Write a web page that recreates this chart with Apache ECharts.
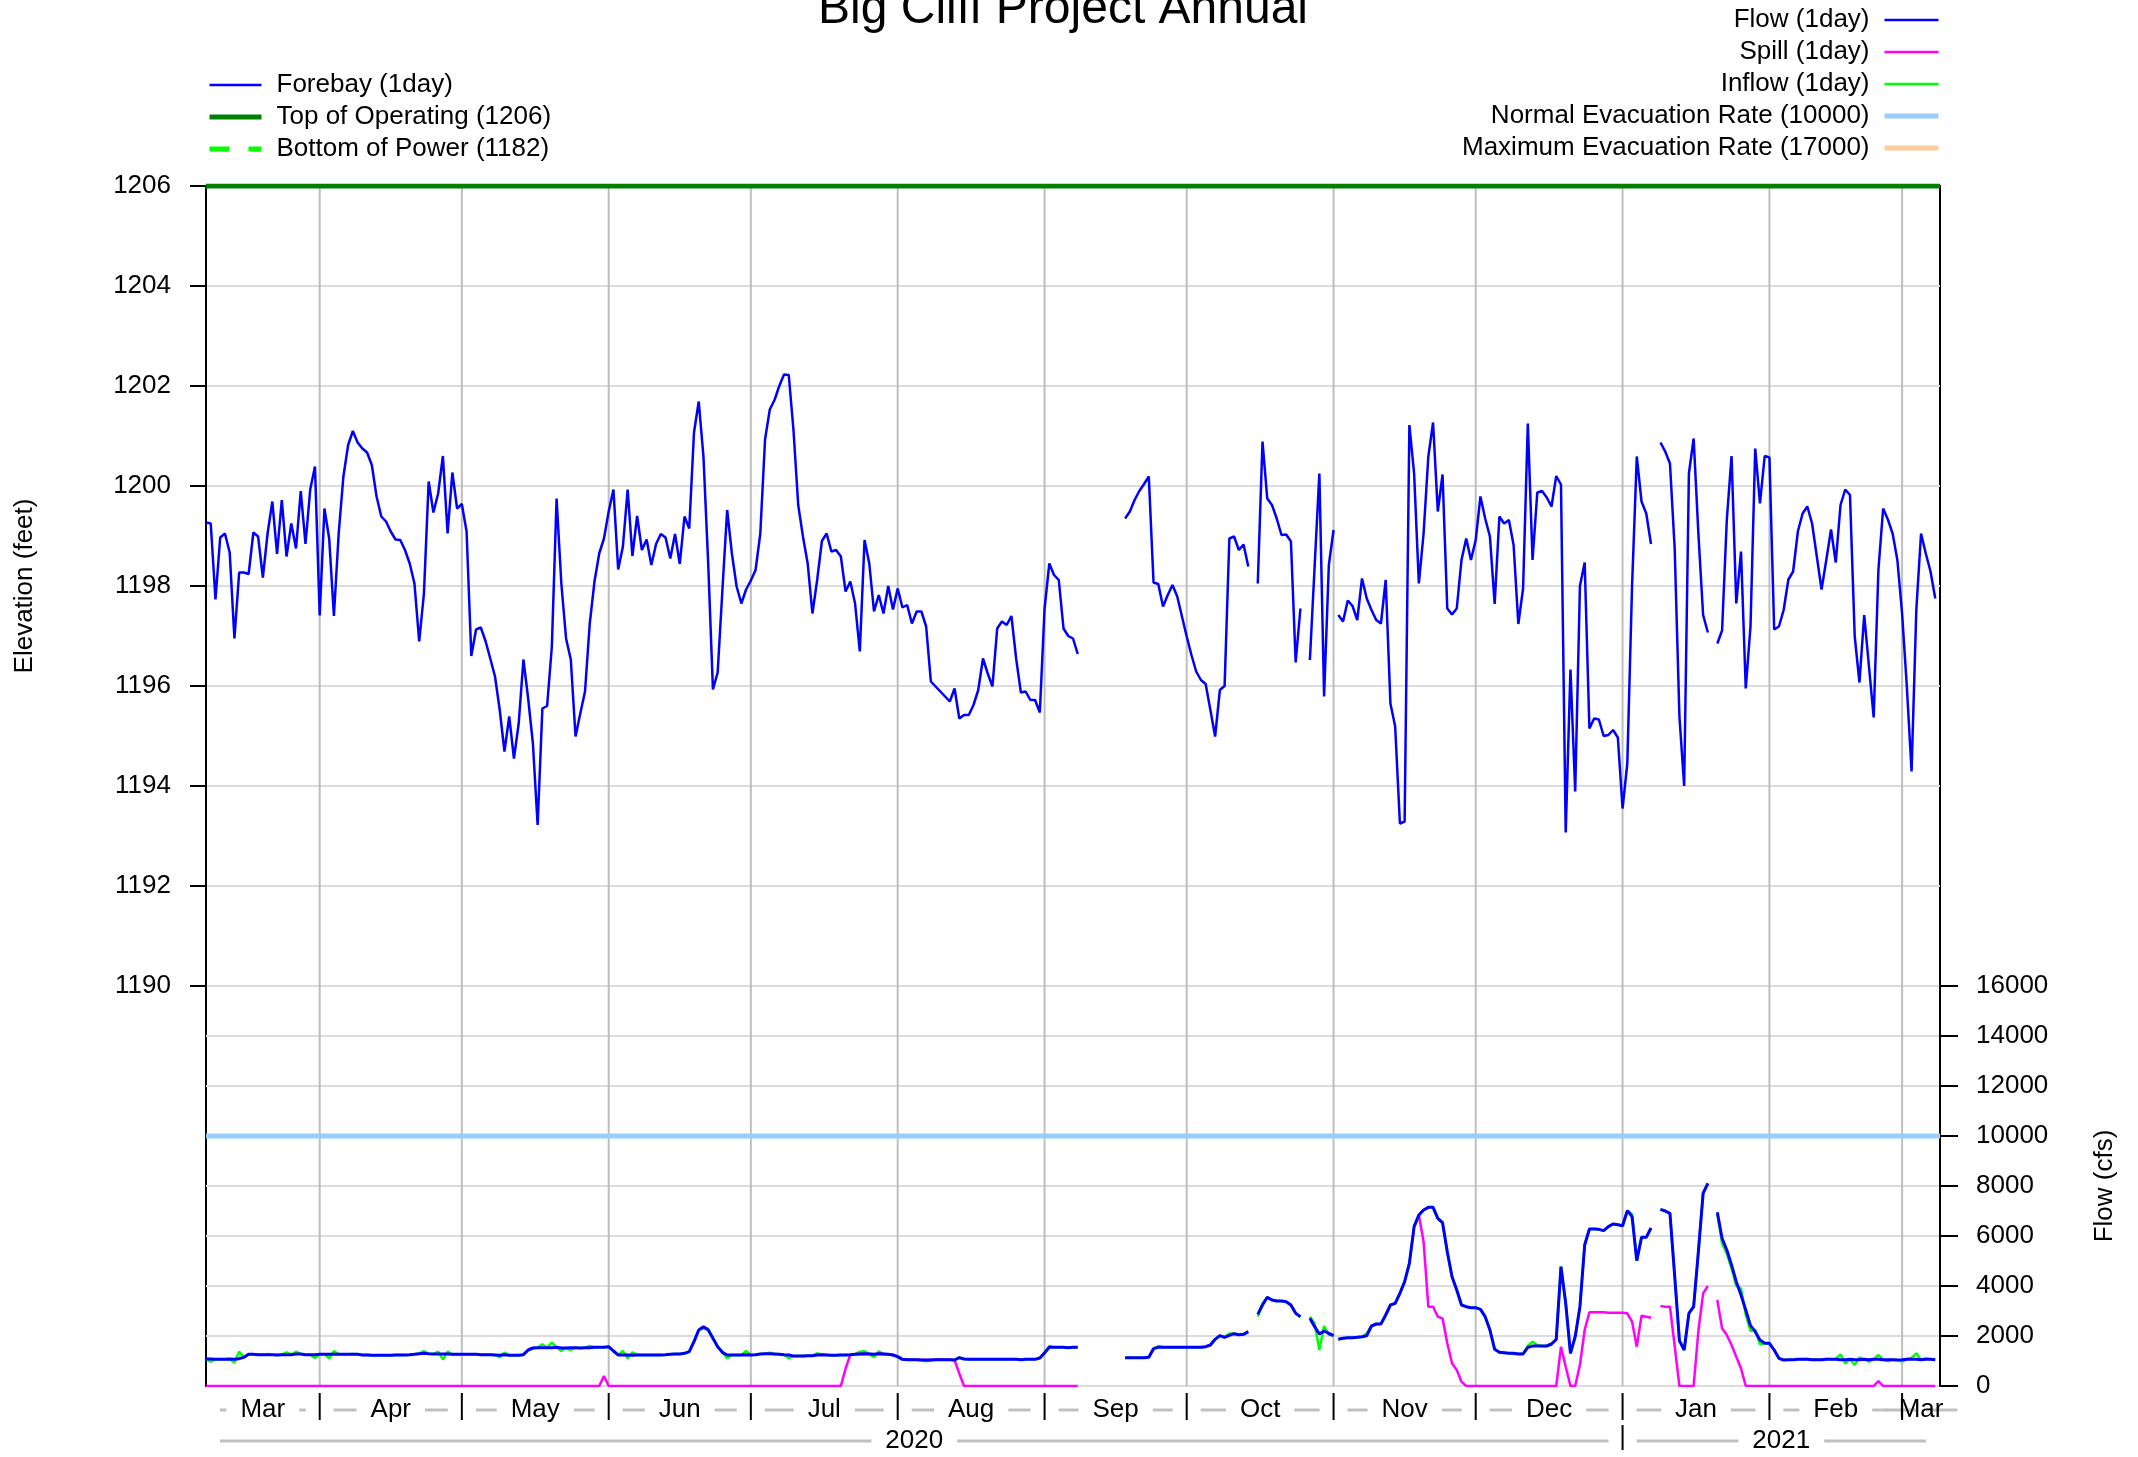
<!DOCTYPE html>
<html>
<head>
<meta charset="utf-8">
<title>Big Cliff Project Annual</title>
<script src="https://cdn.jsdelivr.net/npm/echarts@6/dist/echarts.min.js"></script>
<style>
  html, body { margin: 0; padding: 0; background: #fff; }
  #chart { width: 2138px; height: 1457px; }
</style>
</head>
<body>
<div id="chart"></div>
<script>
// daily values, first entry is 2020-03-08, null = no data that day
const firstDay = '2020-03-08';

const forebay = [
  1199.27, 1199.25, 1197.73, 1198.97, 1199.05, 1198.67, 1196.95, 1198.27, 1198.27, 1198.24,
  1199.07, 1198.99, 1198.17, 1199.05, 1199.69, 1198.64, 1199.72, 1198.59, 1199.25, 1198.75,
  1199.90, 1198.84, 1199.93, 1200.39, 1197.41, 1199.55, 1198.95, 1197.40, 1199.04, 1200.19,
  1200.82, 1201.10, 1200.87, 1200.75, 1200.67, 1200.42, 1199.79, 1199.39, 1199.29, 1199.09,
  1198.93, 1198.92, 1198.72, 1198.45, 1198.05, 1196.89, 1197.85, 1200.09, 1199.47, 1199.85,
  1200.60, 1199.05, 1200.27, 1199.55, 1199.64, 1199.09, 1196.60, 1197.13, 1197.17, 1196.90,
  1196.55, 1196.19, 1195.52, 1194.69, 1195.39, 1194.55, 1195.25, 1196.53, 1195.75, 1194.85,
  1193.22, 1195.55, 1195.60, 1196.79, 1199.75, 1198.05, 1196.95, 1196.53, 1194.99, 1195.45,
  1195.89, 1197.25, 1198.09, 1198.65, 1198.95, 1199.49, 1199.93, 1198.33, 1198.79, 1199.93,
  1198.60, 1199.40, 1198.72, 1198.93, 1198.42, 1198.84, 1199.04, 1198.97, 1198.55, 1199.04,
  1198.44, 1199.39, 1199.15, 1201.07, 1201.69, 1200.59, 1198.45, 1195.93, 1196.27, 1197.92,
  1199.52, 1198.65, 1197.99, 1197.65, 1197.93, 1198.11, 1198.32, 1199.05, 1200.93, 1201.53,
  1201.72, 1202.00, 1202.23, 1202.22, 1201.12, 1199.62, 1198.99, 1198.45, 1197.45, 1198.12,
  1198.90, 1199.05, 1198.69, 1198.72, 1198.59, 1197.89, 1198.09, 1197.65, 1196.69, 1198.92,
  1198.45, 1197.49, 1197.82, 1197.45, 1198.00, 1197.53, 1197.95, 1197.57, 1197.62, 1197.25,
  1197.49, 1197.49, 1197.19, 1196.09, 1195.99, 1195.89, 1195.79, 1195.69, 1195.95, 1195.35,
  1195.42, 1195.42, 1195.62, 1195.92, 1196.55, 1196.25, 1195.99, 1197.15, 1197.29, 1197.22,
  1197.40, 1196.55, 1195.87, 1195.89, 1195.72, 1195.72, 1195.47, 1197.55, 1198.45, 1198.22,
  1198.12, 1197.15, 1197.00, 1196.95, 1196.64, null, null, null, null, null,
  null, null, null, null, 1199.35, 1199.49, 1199.72, 1199.90, 1200.04, 1200.19,
  1198.07, 1198.04, 1197.59, 1197.82, 1198.02, 1197.79, 1197.39, 1196.99, 1196.62, 1196.29,
  1196.12, 1196.04, 1195.52, 1194.99, 1195.92, 1196.00, 1198.95, 1198.99, 1198.72, 1198.83,
  1198.39, null, 1198.05, 1200.89, 1199.75, 1199.62, 1199.35, 1199.02, 1199.03, 1198.89,
  1196.47, 1197.55, null, 1196.52, 1198.39, 1200.25, 1195.79, 1198.42, 1199.12, 1197.42,
  1197.29, 1197.71, 1197.60, 1197.32, 1198.15, 1197.75, 1197.52, 1197.32, 1197.25, 1198.12,
  1195.65, 1195.19, 1193.25, 1193.29, 1201.22, 1200.25, 1198.05, 1199.05, 1200.59, 1201.27,
  1199.49, 1200.23, 1197.55, 1197.43, 1197.55, 1198.52, 1198.95, 1198.52, 1198.92, 1199.79,
  1199.35, 1198.99, 1197.64, 1199.39, 1199.25, 1199.32, 1198.82, 1197.24, 1197.95, 1201.25,
  1198.52, 1199.87, 1199.90, 1199.77, 1199.59, 1200.20, 1200.03, 1193.07, 1196.33, 1193.89,
  1198.00, 1198.47, 1195.15, 1195.35, 1195.33, 1195.00, 1195.02, 1195.12, 1194.97, 1193.55,
  1194.45, 1197.99, 1200.59, 1199.69, 1199.45, 1198.84, null, 1200.87, 1200.69, 1200.45,
  1198.75, 1195.39, 1194.00, 1200.25, 1200.95, 1199.05, 1197.42, 1197.07, null, 1196.85,
  1197.11, 1199.32, 1200.60, 1197.65, 1198.69, 1195.95, 1197.19, 1200.75, 1199.65, 1200.60,
  1200.57, 1197.13, 1197.19, 1197.52, 1198.13, 1198.29, 1199.09, 1199.45, 1199.59, 1199.25,
  1198.59, 1197.93, 1198.52, 1199.13, 1198.47, 1199.62, 1199.93, 1199.82, 1196.99, 1196.07,
  1197.42, 1196.40, 1195.37, 1198.32, 1199.55, 1199.33, 1199.05, 1198.52, 1197.45, 1195.99,
  1194.29, 1197.52, 1199.05, 1198.65, 1198.29, 1197.75
];

const flow = [
  1080, 1080, 1067, 1067, 1067, 1080, 1067, 1093, 1147, 1267,
  1267, 1253, 1253, 1253, 1253, 1240, 1253, 1253, 1253, 1280,
  1280, 1253, 1253, 1253, 1267, 1267, 1267, 1267, 1267, 1267,
  1267, 1267, 1267, 1240, 1240, 1227, 1227, 1227, 1227, 1227,
  1240, 1240, 1240, 1253, 1267, 1293, 1307, 1293, 1280, 1280,
  1280, 1280, 1267, 1267, 1267, 1267, 1267, 1267, 1253, 1253,
  1253, 1240, 1227, 1253, 1227, 1227, 1227, 1253, 1440, 1520,
  1533, 1533, 1533, 1533, 1547, 1520, 1520, 1533, 1533, 1520,
  1533, 1533, 1547, 1547, 1547, 1573, 1400, 1240, 1240, 1240,
  1227, 1240, 1240, 1240, 1240, 1240, 1240, 1253, 1267, 1280,
  1280, 1307, 1373, 1773, 2240, 2373, 2240, 1907, 1573, 1347,
  1240, 1240, 1240, 1240, 1253, 1240, 1253, 1280, 1293, 1293,
  1280, 1267, 1253, 1240, 1200, 1200, 1200, 1213, 1213, 1240,
  1253, 1240, 1227, 1227, 1240, 1240, 1253, 1267, 1280, 1293,
  1280, 1267, 1293, 1280, 1267, 1240, 1173, 1067, 1053, 1053,
  1053, 1040, 1040, 1040, 1053, 1053, 1053, 1053, 1040, 1133,
  1080, 1067, 1067, 1067, 1067, 1067, 1067, 1067, 1067, 1067,
  1067, 1067, 1053, 1067, 1067, 1067, 1120, 1333, 1547, 1547,
  1547, 1547, 1533, 1547, 1547, null, null, null, null, null,
  null, null, null, null, 1133, 1133, 1133, 1133, 1133, 1147,
  1493, 1547, 1547, 1547, 1547, 1547, 1547, 1547, 1547, 1547,
  1547, 1573, 1640, 1867, 2013, 1947, 2027, 2093, 2053, 2067,
  2173, null, 2867, 3240, 3547, 3440, 3400, 3400, 3373, 3240,
  2907, 2773, null, 2707, 2373, 2080, 2200, 2107, 2013, 1867,
  1907, 1933, 1933, 1947, 1973, 2013, 2400, 2480, 2480, 2840,
  3240, 3307, 3707, 4173, 4907, 6373, 6840, 7040, 7147, 7147,
  6707, 6533, 5373, 4373, 3840, 3240, 3173, 3133, 3133, 3067,
  2773, 2240, 1467, 1347, 1333, 1307, 1307, 1280, 1280, 1547,
  1600, 1600, 1600, 1600, 1680, 1867, 4773, 3307, 1307, 1973,
  3173, 5640, 6280, 6280, 6267, 6213, 6373, 6480, 6453, 6413,
  7013, 6773, 5013, 5947, 5947, 6320, null, 7067, 7000, 6907,
  4400, 1813, 1440, 2907, 3173, 5373, 7707, 8107, null, 6947,
  5907, 5440, 4840, 4173, 3640, 3040, 2413, 2173, 1840, 1707,
  1707, 1440, 1107, 1040, 1053, 1053, 1067, 1067, 1067, 1053,
  1053, 1053, 1067, 1067, 1067, 1053, 1053, 1067, 1053, 1053,
  1067, 1053, 1067, 1067, 1053, 1053, 1053, 1040, 1053, 1067,
  1067, 1067, 1053, 1067, 1067, 1053
];

const spill = [
  0, 0, 0, 0, 0, 0, 0, 0, 0, 0,
  0, 0, 0, 0, 0, 0, 0, 0, 0, 0,
  0, 0, 0, 0, 0, 0, 0, 0, 0, 0,
  0, 0, 0, 0, 0, 0, 0, 0, 0, 0,
  0, 0, 0, 0, 0, 0, 0, 0, 0, 0,
  0, 0, 0, 0, 0, 0, 0, 0, 0, 0,
  0, 0, 0, 0, 0, 0, 0, 0, 0, 0,
  0, 0, 0, 0, 0, 0, 0, 0, 0, 0,
  0, 0, 0, 0, 400, 0, 0, 0, 0, 0,
  0, 0, 0, 0, 0, 0, 0, 0, 0, 0,
  0, 0, 0, 0, 0, 0, 0, 0, 0, 0,
  0, 0, 0, 0, 0, 0, 0, 0, 0, 0,
  0, 0, 0, 0, 0, 0, 0, 0, 0, 0,
  0, 0, 0, 0, 0, 700, 1253, 1267, 1280, 1293,
  1280, 1267, 1293, 1280, 1267, 1240, 1173, 1067, 1053, 1053,
  1053, 1040, 1040, 1040, 1053, 1053, 1053, 1053, 1040, 500,
  0, 0, 0, 0, 0, 0, 0, 0, 0, 0,
  0, 0, 0, 0, 0, 0, 0, 0, 0, 0,
  0, 0, 0, 0, 0, null, null, null, null, null,
  null, null, null, null, null, null, null, null, null, null,
  null, null, null, null, null, null, null, null, null, null,
  null, null, null, null, null, null, null, null, null, null,
  null, null, null, null, null, null, null, null, null, null,
  null, null, null, null, null, null, null, null, null, null,
  null, null, null, null, null, null, null, null, null, null,
  null, null, null, null, null, null, 6840, 5773, 3173, 3173,
  2773, 2707, 1707, 907, 640, 173, 0, 0, 0, 0,
  0, 0, 0, 0, 0, 0, 0, 0, 0, 0,
  0, 0, 0, 0, 0, 0, 1573, 773, 0, 0,
  850, 2240, 2950, 2947, 2947, 2947, 2933, 2933, 2933, 2933,
  2907, 2573, 1573, 2813, 2773, 2733, null, 3200, 3173, 3173,
  1600, 0, 0, 0, 0, 2200, 3707, 4000, null, 3440,
  2307, 2040, 1640, 1173, 707, 0, 0, 0, 0, 0,
  0, 0, 0, 0, 0, 0, 0, 0, 0, 0,
  0, 0, 0, 0, 0, 0, 0, 0, 0, 0,
  0, 0, 0, 200, 0, 0, 0, 0, 0, 0,
  0, 0, 0, 0, 0, 0
];

const inflow = [
  1080, 973, 1067, 1067, 1067, 1080, 933, 1373, 1147, 1267,
  1267, 1253, 1253, 1280, 1253, 1240, 1253, 1350, 1253, 1370,
  1280, 1253, 1253, 1120, 1267, 1267, 1110, 1400, 1267, 1267,
  1267, 1280, 1267, 1240, 1240, 1227, 1227, 1227, 1227, 1227,
  1240, 1240, 1240, 1253, 1267, 1293, 1400, 1293, 1280, 1373,
  1067, 1373, 1267, 1267, 1267, 1267, 1267, 1267, 1253, 1253,
  1253, 1240, 1147, 1333, 1227, 1227, 1227, 1253, 1440, 1520,
  1533, 1667, 1533, 1733, 1547, 1400, 1520, 1440, 1533, 1520,
  1533, 1600, 1547, 1547, 1547, 1573, 1400, 1240, 1400, 1107,
  1350, 1240, 1240, 1240, 1240, 1240, 1240, 1253, 1267, 1280,
  1280, 1307, 1373, 1773, 2240, 2300, 2300, 1907, 1573, 1347,
  1107, 1240, 1240, 1240, 1400, 1240, 1253, 1280, 1293, 1330,
  1280, 1267, 1253, 1107, 1200, 1200, 1200, 1213, 1213, 1307,
  1253, 1240, 1227, 1227, 1240, 1240, 1253, 1267, 1373, 1400,
  1280, 1147, 1387, 1280, 1267, 1240, 1173, 1067, 1053, 1053,
  1053, 1040, 987, 1040, 1053, 1053, 1053, 1053, 1040, 1133,
  1080, 1067, 1067, 1067, 1067, 1067, 1067, 1067, 1067, 1067,
  1067, 1067, 1053, 1067, 1067, 1067, 1120, 1300, 1600, 1547,
  1547, 1547, 1533, 1547, 1547, null, null, null, null, null,
  null, null, null, null, 1133, 1133, 1133, 1133, 1133, 1147,
  1493, 1600, 1547, 1547, 1547, 1547, 1547, 1547, 1547, 1547,
  1547, 1573, 1640, 1867, 2013, 1947, 2100, 2093, 2053, 2067,
  2173, null, 2773, 3300, 3547, 3440, 3400, 3400, 3373, 3240,
  2907, 2773, null, 2773, 2500, 1440, 2400, 2050, 2013, 1867,
  1907, 1933, 1933, 1947, 1973, 2100, 2400, 2480, 2480, 2840,
  3240, 3307, 3707, 4173, 4907, 6373, 6840, 7040, 7147, 7147,
  6707, 6533, 5373, 4373, 3840, 3240, 3173, 3133, 3133, 3067,
  2773, 2240, 1467, 1347, 1333, 1307, 1280, 1280, 1307, 1600,
  1773, 1640, 1600, 1600, 1680, 1867, 4773, 3307, 1307, 1973,
  3173, 5640, 6280, 6280, 6267, 6213, 6373, 6480, 6453, 6413,
  7013, 6880, 5013, 5947, 5947, 6320, null, 7067, 7000, 6907,
  4400, 1813, 1440, 2907, 3173, 5373, 7707, 8107, null, 6900,
  5700, 5300, 4700, 4000, 3900, 2850, 2200, 2250, 1667, 1707,
  1707, 1440, 1107, 1040, 1053, 1053, 1067, 1067, 1080, 1053,
  1053, 1053, 1080, 1067, 1080, 1267, 907, 1067, 840, 1147,
  1067, 973, 1067, 1240, 1053, 1000, 1053, 1040, 973, 1067,
  1120, 1307, 1053, 1100, 1067, 1053
];

// the record restarts after this day index (DST change on Nov 1), lines break there
const breakAfterDay = [238];

const topOfOperating = 1206;
const bottomOfPower = 1182;
const normalEvacuation = 10000;
const maximumEvacuation = 17000;

const elevationRange = [1190, 1206, 2];
const flowRange = [0, 16000, 2000];

const xRange = ['2020-03-08', '2021-03-09'];
const monthStarts = ['2020-04-01', '2020-05-01', '2020-06-01', '2020-07-01', '2020-08-01', '2020-09-01',
  '2020-10-01', '2020-11-01', '2020-12-01', '2021-01-01', '2021-02-01', '2021-03-01'];
const monthLabels = ['Mar', 'Apr', 'May', 'Jun', 'Jul', 'Aug', 'Sep', 'Oct', 'Nov', 'Dec', 'Jan', 'Feb', 'Mar'];
const yearStarts = ['2021-01-01'];
const yearLabels = ['2020', '2021'];

const FONT = '"Liberation Sans", Arial, Helvetica, sans-serif';
const DAY = 24 * 3600 * 1000;

function toTime(s) {
  const p = s.split('-').map(Number);
  return new Date(p[0], p[1] - 1, p[2]).getTime();
}

const xMin = toTime(xRange[0]);
const xMax = toTime(xRange[1]);
const t0 = toTime(firstDay);

function daily(values) {
  const out = [];
  values.forEach((v, i) => {
    const t = new Date(t0).setDate(new Date(t0).getDate() + i);
    out.push([t, v == null ? '-' : v]);
    if (breakAfterDay.includes(i)) out.push([t + DAY / 2, '-']);
  });
  return out;
}

function level(v) {
  return [[xMin, v], [xMax, v]];
}

// text width for the hand-drawn date axis
const measureCtx = document.createElement('canvas').getContext('2d');
measureCtx.font = '26px ' + FONT;

function segments(starts) {
  const bounds = [xMin].concat(starts.map(toTime), [xMax]);
  const out = [];
  for (let i = 0; i < bounds.length - 1; i++) out.push([bounds[i], bounds[i + 1], 0]);
  return out;
}

// one labelled span of the date axis: "— Apr —|"
function dateSpan(labels, textOffset, sepTop, sepBottom) {
  return function (params, api) {
    const start = api.coord([api.value(0), 0]);
    const x0 = start[0];
    const x1 = api.coord([api.value(1), 0])[0];
    const base = start[1];
    const label = labels[params.dataIndex];
    const w = measureCtx.measureText(label).width;
    const cx = (x0 + x1) / 2;
    const y = base + textOffset;
    const gap = 14;
    const dash = (a, b) => ({
      type: 'line',
      shape: { x1: a, y1: y, x2: b, y2: y },
      style: { stroke: '#c0c0c0', lineWidth: 3 }
    });
    const children = [
      dash(x0 + gap, cx - w / 2 - gap),
      dash(cx + w / 2 + gap, x1 - gap),
      {
        type: 'text',
        style: {
          text: label, x: cx, y: y, align: 'center', verticalAlign: 'middle',
          fontSize: 26, fontFamily: FONT, fill: '#000'
        }
      }
    ];
    if (params.dataIndex > 0) {
      children.push({
        type: 'line',
        shape: { x1: x0, y1: base + sepTop, x2: x0, y2: base + sepBottom },
        style: { stroke: '#000', lineWidth: 2 }
      });
    }
    return { type: 'group', children: children };
  };
}

function monthGrid(axisIndex) {
  return {
    type: 'custom',
    xAxisIndex: axisIndex,
    yAxisIndex: axisIndex,
    z: 1,
    silent: true,
    data: monthStarts.map(s => [toTime(s), axisIndex === 0 ? elevationRange[0] : flowRange[0]]),
    renderItem: function (params, api) {
      const x = api.coord([api.value(0), api.value(1)])[0];
      const cs = params.coordSys;
      return {
        type: 'line',
        shape: { x1: x, y1: cs.y, x2: x, y2: cs.y + cs.height },
        style: { stroke: '#bebebe', lineWidth: 2 }
      };
    }
  };
}

const chart = echarts.init(document.getElementById('chart'));

const legendText = { fontSize: 26, color: '#000', fontFamily: FONT, lineHeight: 24 };

const xAxisBase = {
  type: 'time', min: xMin, max: xMax,
  axisLine: { show: false }, axisTick: { show: false },
  axisLabel: { show: false }, splitLine: { show: false }
};

chart.setOption({
  animation: false,
  backgroundColor: '#fff',
  textStyle: { fontFamily: FONT },
  title: {
    text: 'Big Cliff Project Annual',
    left: 818,
    top: -14,
    padding: 0,
    textStyle: { fontSize: 48, fontWeight: 'normal', color: '#000', fontFamily: FONT }
  },
  legend: [
    {
      orient: 'vertical', left: 207, top: 72, padding: 0,
      itemWidth: 52, itemHeight: 24, itemGap: 6, align: 'left',
      selectedMode: false,
      itemStyle: { opacity: 0 },
      lineStyle: { width: 2.5 },
      textStyle: Object.assign({ padding: [0, 0, 0, 10] }, legendText),
      data: [
        { name: 'Forebay (1day)' },
        { name: 'Top of Operating (1206)', lineStyle: { width: 5 } },
        { name: 'Bottom of Power (1182)', lineStyle: { width: 5, type: [20, 19] } }
      ]
    },
    {
      orient: 'vertical', right: 197, top: 7, padding: 0,
      itemWidth: 54, itemHeight: 24, itemGap: 6, align: 'right',
      selectedMode: false,
      itemStyle: { opacity: 0 },
      lineStyle: { width: 2.5 },
      textStyle: Object.assign({ padding: [0, 10, 0, 0] }, legendText),
      data: [
        { name: 'Flow (1day)' },
        { name: 'Spill (1day)' },
        { name: 'Inflow (1day)' },
        { name: 'Normal Evacuation Rate (10000)', lineStyle: { width: 5 } },
        { name: 'Maximum Evacuation Rate (17000)', lineStyle: { width: 5 } }
      ]
    }
  ],
  grid: [
    { left: 206, right: 198, top: 186, height: 800, show: true, borderColor: '#000', borderWidth: 2, outerBoundsMode: 'none' },
    { left: 206, right: 198, top: 986, height: 400, show: true, borderColor: '#000', borderWidth: 2, outerBoundsMode: 'none' }
  ],
  xAxis: [
    Object.assign({ gridIndex: 0 }, xAxisBase),
    Object.assign({ gridIndex: 1 }, xAxisBase)
  ],
  yAxis: [
    {
      type: 'value', gridIndex: 0, position: 'left',
      min: elevationRange[0], max: elevationRange[1], interval: elevationRange[2],
      name: 'Elevation (feet)', nameLocation: 'middle', nameGap: 168, nameRotate: 90,
      nameMoveOverlap: false,
      nameTextStyle: { fontSize: 26, color: '#000', fontFamily: FONT },
      axisLine: { show: true, lineStyle: { color: '#000', width: 2 } },
      axisTick: { show: true, length: 16, lineStyle: { color: '#000', width: 2 } },
      axisLabel: { fontSize: 26, color: '#000', margin: 35, fontFamily: FONT, formatter: v => String(v) },
      splitLine: { show: true, lineStyle: { color: '#dcdcdc', width: 2 } }
    },
    {
      type: 'value', gridIndex: 1, position: 'right',
      min: flowRange[0], max: flowRange[1], interval: flowRange[2],
      name: 'Flow (cfs)', nameLocation: 'middle', nameGap: 152, nameRotate: 90,
      nameMoveOverlap: false,
      nameTextStyle: { fontSize: 26, color: '#000', fontFamily: FONT },
      axisLine: { show: true, lineStyle: { color: '#000', width: 2 } },
      axisTick: { show: true, length: 18, lineStyle: { color: '#000', width: 2 } },
      axisLabel: { fontSize: 26, color: '#000', margin: 36, fontFamily: FONT, formatter: v => String(v) },
      splitLine: { show: true, lineStyle: { color: '#dcdcdc', width: 2 } }
    }
  ],
  series: [
    monthGrid(0),
    monthGrid(1),
    {
      name: 'Top of Operating (1206)', type: 'line', xAxisIndex: 0, yAxisIndex: 0,
      symbol: 'none', z: 2, silent: true,
      lineStyle: { color: '#008000', width: 5 },
      data: level(topOfOperating)
    },
    {
      name: 'Bottom of Power (1182)', type: 'line', xAxisIndex: 0, yAxisIndex: 0,
      symbol: 'none', z: 2, silent: true,
      lineStyle: { color: '#00ff00', width: 5, type: [20, 19] },
      data: level(bottomOfPower)
    },
    {
      name: 'Forebay (1day)', type: 'line', xAxisIndex: 0, yAxisIndex: 0,
      symbol: 'none', z: 3, silent: true,
      lineStyle: { color: '#0000ff', width: 2.5 },
      data: daily(forebay)
    },
    {
      name: 'Normal Evacuation Rate (10000)', type: 'line', xAxisIndex: 1, yAxisIndex: 1,
      symbol: 'none', z: 2, silent: true,
      lineStyle: { color: '#99ccff', width: 5 },
      data: level(normalEvacuation)
    },
    {
      name: 'Maximum Evacuation Rate (17000)', type: 'line', xAxisIndex: 1, yAxisIndex: 1,
      symbol: 'none', z: 2, silent: true,
      lineStyle: { color: '#ffcc99', width: 5 },
      data: level(maximumEvacuation)
    },
    {
      name: 'Inflow (1day)', type: 'line', xAxisIndex: 1, yAxisIndex: 1,
      symbol: 'none', z: 3, silent: true,
      lineStyle: { color: '#00ff00', width: 2.5 },
      data: daily(inflow)
    },
    {
      name: 'Spill (1day)', type: 'line', xAxisIndex: 1, yAxisIndex: 1,
      symbol: 'none', z: 4, silent: true,
      lineStyle: { color: '#ff00ff', width: 2.5 },
      data: daily(spill)
    },
    {
      name: 'Flow (1day)', type: 'line', xAxisIndex: 1, yAxisIndex: 1,
      symbol: 'none', z: 5, silent: true,
      lineStyle: { color: '#0000ff', width: 3 },
      data: daily(flow)
    },
    {
      type: 'custom', xAxisIndex: 1, yAxisIndex: 1, silent: true, z: 6,
      data: segments(monthStarts),
      renderItem: dateSpan(monthLabels, 24, 7, 34)
    },
    {
      type: 'custom', xAxisIndex: 1, yAxisIndex: 1, silent: true, z: 6,
      data: segments(yearStarts),
      renderItem: dateSpan(yearLabels, 55, 39, 64)
    }
  ]
});

window.addEventListener('resize', () => chart.resize());
</script>
</body>
</html>
